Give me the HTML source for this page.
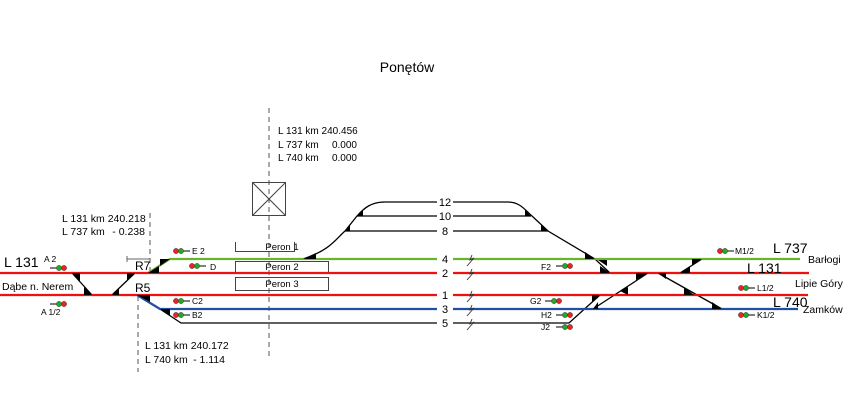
<!DOCTYPE html>
<html><head><meta charset="utf-8"><style>
html,body{margin:0;padding:0;background:#fff;}
svg{display:block;font-family:"Liberation Sans",Arial,sans-serif;}
</style></head><body>
<svg width="848" height="415" viewBox="0 0 848 415" xmlns="http://www.w3.org/2000/svg">
<text x="407" y="72" font-size="14" text-anchor="middle">Ponętów</text>
<g font-size="10" fill="#000">
<text x="278" y="134">L 131 km 240.456</text>
<text x="278" y="148">L 737 km</text><text x="357" y="148" text-anchor="end">0.000</text>
<text x="278" y="161">L 740 km</text><text x="357" y="161" text-anchor="end">0.000</text>
</g>
<g font-size="10.5" fill="#000">
<text x="62" y="222">L 131 km 240.218</text>
<text x="62" y="235">L 737 km</text><text x="145" y="235" text-anchor="end">- 0.238</text>
<text x="145" y="349">L 131 km 240.172</text>
<text x="145" y="363">L 740 km</text><text x="225" y="363" text-anchor="end">- 1.114</text>
</g>
<g stroke="#555" stroke-width="1" stroke-dasharray="5,4" fill="none">
<line x1="269" y1="108" x2="269" y2="360"/>
<line x1="150" y1="213" x2="150" y2="276"/>
<line x1="138" y1="296" x2="138" y2="372"/>
</g>
<g stroke="#444" stroke-width="1" fill="none">
<rect x="252.5" y="182.5" width="33" height="33"/>
<line x1="252.5" y1="182.5" x2="285.5" y2="215.5"/><line x1="285.5" y1="182.5" x2="252.5" y2="215.5"/>
<polyline points="235.5,242 235.5,251.5 294.5,251.5 294.5,242"/>
<rect x="235.5" y="261.5" width="93" height="11"/>
<rect x="235.5" y="277.5" width="93" height="13"/>
<line x1="127" y1="259" x2="150" y2="259" stroke="#666"/>
<line x1="127" y1="256" x2="127" y2="262" stroke="#666"/>
</g>
<g font-size="9.5"><text x="282" y="250" text-anchor="middle">Peron 1</text>
<text x="282" y="270" text-anchor="middle">Peron 2</text>
<text x="282" y="287" text-anchor="middle">Peron 3</text></g>
<g stroke="#000" stroke-width="1.3" fill="none">
<path d="M303,259 C330,250 335,240 345,231 L357,216 C365,207 372,202 385,202 L437,202"/>
<line x1="453" y1="202" x2="508" y2="202"/>
<path d="M508,202 C520,202 525,210 532,216 L548,231 L595,259 L610,273"/>
<line x1="357" y1="216" x2="437" y2="216"/><line x1="453" y1="216" x2="531" y2="216"/>
<line x1="345" y1="231" x2="437" y2="231"/><line x1="453" y1="231" x2="548" y2="231"/>
<polyline points="160,309 181,323 437,323"/>
<polyline points="453,323 569,323 600,295"/>
<line x1="72" y1="273" x2="92" y2="295"/>
<line x1="112" y1="295" x2="135" y2="273"/>
<line x1="593" y1="309" x2="648" y2="273"/>
<line x1="658" y1="273" x2="722" y2="309"/>
<line x1="680" y1="273" x2="702" y2="259"/>
</g>
<g stroke-width="2.2" fill="none">
<polyline stroke="#6ab42d" points="148,273 170,259 437,259"/>
<line stroke="#6ab42d" x1="453" y1="259" x2="800" y2="259"/>
<line stroke="#f01010" x1="0" y1="273" x2="437" y2="273"/>
<line stroke="#f01010" x1="453" y1="273" x2="809" y2="273"/>
<line stroke="#f01010" x1="0" y1="295" x2="437" y2="295"/>
<line stroke="#f01010" x1="453" y1="295" x2="808" y2="295"/>
<polyline stroke="#1e50a8" points="137,295 160,309 437,309"/>
<line stroke="#1e50a8" x1="453" y1="309" x2="798" y2="309"/>
</g>
<g fill="#000">
<polygon points="72,273 80,273 80,282"/><polygon points="92,295 84,295 84,287"/>
<polygon points="112,295 119,295 119,288"/><polygon points="135,273 127,273 127,281"/>
<polygon points="148,273 159,273 159,266"/><polygon points="170,259 160,259 160,266"/>
<polygon points="137,295 150,295 150,302"/><polygon points="160,309 170,309 170,316"/>
<polygon points="303,259 316,259 316,253"/>
<polygon points="345,231 350,231 350,225"/><polygon points="357,216 363,216 363,210"/>
<polygon points="531,216 525,216 525,210"/><polygon points="548,231 541,231 541,224"/>
<polygon points="595,259 585,259 585,252"/><polygon points="598,260 607,260 607,266"/>
<polygon points="610,273 600,273 600,266"/>
<polygon points="600,295 592,295 592,302"/><polygon points="593,309 598,309 598,302"/>
<polygon points="648,273 636,273 636,280"/><polygon points="658,273 666,273 666,279"/>
<polygon points="620,291 628,287 628,295"/><polygon points="684,287 694,295 684,295"/>
<polygon points="680,273 690,273 690,266"/><polygon points="702,259 692,259 692,265"/>
<polygon points="722,309 712,309 712,302"/>
</g>
<g font-size="11" text-anchor="middle">
<text x="445" y="206">12</text><text x="445" y="220">10</text><text x="445" y="235">8</text>
<text x="445" y="263">4</text><text x="445" y="277">2</text><text x="445" y="299">1</text>
<text x="445" y="313">3</text><text x="445" y="327">5</text></g>
<g stroke="#333" stroke-width="0.9" fill="none">
<path d="M467,266 L474,258 L470,260 L472,255"/><path d="M467,280 L474,272 L470,274 L472,269"/>
<path d="M467,302 L474,294 L470,296 L472,291"/><path d="M467,316 L474,308 L470,310 L472,305"/>
<path d="M467,330 L474,322 L470,324 L472,319"/></g>
<g stroke="#000" stroke-width="1">
<line x1="50" y1="268" x2="57" y2="268"/><line x1="50" y1="304" x2="57" y2="304"/>
<line x1="183" y1="251" x2="190" y2="251"/><line x1="199" y1="266" x2="206" y2="266"/>
<line x1="183" y1="301" x2="190" y2="301"/><line x1="183" y1="315" x2="190" y2="315"/>
<line x1="556" y1="266" x2="563" y2="266"/><line x1="545" y1="301" x2="552" y2="301"/>
<line x1="556" y1="315" x2="563" y2="315"/><line x1="556" y1="327" x2="563" y2="327"/>
<line x1="727" y1="251" x2="734" y2="251"/><line x1="748" y1="288" x2="755" y2="288"/>
<line x1="748" y1="315" x2="755" y2="315"/>
</g>
<g stroke="#333" stroke-width="0.5">
<circle cx="59" cy="268" r="2.6" fill="#2a2"/><circle cx="64" cy="268" r="2.6" fill="#e22"/>
<circle cx="59" cy="304" r="2.6" fill="#2a2"/><circle cx="64" cy="304" r="2.6" fill="#e22"/>
<circle cx="176" cy="251" r="2.6" fill="#e22"/><circle cx="181" cy="251" r="2.6" fill="#2a2"/>
<circle cx="192" cy="266" r="2.6" fill="#e22"/><circle cx="197" cy="266" r="2.6" fill="#2a2"/>
<circle cx="176" cy="301" r="2.6" fill="#e22"/><circle cx="181" cy="301" r="2.6" fill="#2a2"/>
<circle cx="176" cy="315" r="2.6" fill="#e22"/><circle cx="181" cy="315" r="2.6" fill="#2a2"/>
<circle cx="565" cy="266" r="2.6" fill="#2a2"/><circle cx="570" cy="266" r="2.6" fill="#e22"/>
<circle cx="554" cy="301" r="2.6" fill="#2a2"/><circle cx="559" cy="301" r="2.6" fill="#e22"/>
<circle cx="565" cy="315" r="2.6" fill="#2a2"/><circle cx="570" cy="315" r="2.6" fill="#e22"/>
<circle cx="565" cy="327" r="2.6" fill="#2a2"/><circle cx="570" cy="327" r="2.6" fill="#e22"/>
<circle cx="720" cy="251" r="2.6" fill="#e22"/><circle cx="725" cy="251" r="2.6" fill="#2a2"/>
<circle cx="741" cy="288" r="2.6" fill="#e22"/><circle cx="746" cy="288" r="2.6" fill="#2a2"/>
<circle cx="741" cy="315" r="2.6" fill="#e22"/><circle cx="746" cy="315" r="2.6" fill="#2a2"/>
</g>
<g font-size="8.5">
<text x="44" y="262">A 2</text><text x="41" y="315">A 1/2</text>
<text x="192" y="254">E 2</text><text x="210" y="270">D</text>
<text x="192" y="304">C2</text><text x="192" y="318">B2</text>
<text x="541" y="270">F2</text><text x="530" y="304">G2</text>
<text x="541" y="318">H2</text><text x="541" y="330">J2</text>
<text x="735" y="254">M1/2</text><text x="757" y="291">L1/2</text><text x="757" y="318">K1/2</text>
</g>
<g font-size="12"><text x="135" y="270">R7</text><text x="135" y="292">R5</text></g>
<g font-size="14"><text x="4" y="267">L 131</text>
<text x="773" y="253">L 737</text><text x="747" y="273">L 131</text><text x="773" y="307">L 740</text></g>
<g font-size="10.5"><text x="2" y="290">Dąbe n. Nerem</text>
<text x="808" y="263">Barłogi</text><text x="795" y="287">Lipie Góry</text><text x="803" y="313">Zamków</text></g>
</svg>
</body></html>
